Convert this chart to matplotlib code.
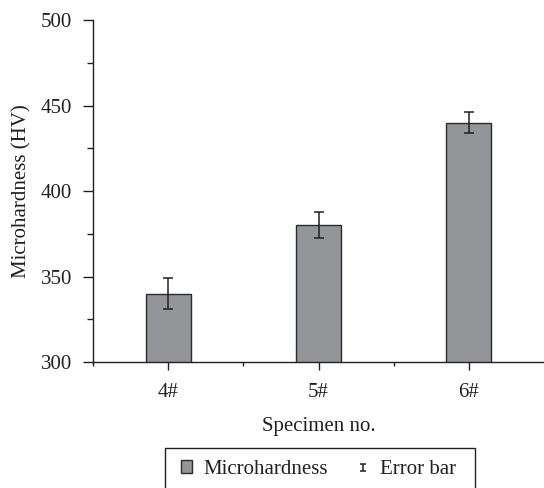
import matplotlib
matplotlib.use("Agg")
import matplotlib.pyplot as plt
from matplotlib.lines import Line2D
from matplotlib.patches import Rectangle
from matplotlib.legend_handler import HandlerErrorbar
from matplotlib.ticker import MultipleLocator, FixedLocator

plt.rcParams["font.family"] = ["Liberation Serif", "DejaVu Serif"]

specimens = ["4#", "5#", "6#"]
hardness = [340, 380, 440]
errors = [9, 7.5, 6]

ink = "#231f20"


class SmallCapHandler(HandlerErrorbar):
    # shrink the caps drawn in the legend key
    def create_artists(self, *args, **kwargs):
        arts = super().create_artists(*args, **kwargs)
        for a in arts:
            if isinstance(a, Line2D) and a.get_marker() == "_":
                a.set_markersize(5)
        return arts


fig = plt.figure(figsize=(5.44, 4.88), dpi=100)
ax = fig.add_axes([0.171, 0.258, 0.829, 0.701])

x = list(range(len(specimens)))
bars = ax.bar(x, hardness, width=0.30, color="#939598", edgecolor="#2b2b2b",
              linewidth=1.0, label="Microhardness", zorder=2)
eb = ax.errorbar(x, hardness, yerr=errors, fmt="none", ecolor=ink,
                 elinewidth=1.1, capsize=3.6, capthick=1.1, label="Error bar", zorder=3)

ax.set_xlim(-0.5, 2.5)
ax.set_ylim(300, 500)
ax.set_xticks(x)
ax.set_xticklabels(specimens)
ax.xaxis.set_minor_locator(FixedLocator([-0.5, 0.5, 1.5]))
ax.yaxis.set_major_locator(MultipleLocator(50))
ax.yaxis.set_minor_locator(MultipleLocator(25))

for s in ["top", "right"]:
    ax.spines[s].set_visible(False)
for s in ["left", "bottom"]:
    ax.spines[s].set_color(ink)
    ax.spines[s].set_linewidth(1.0)

ax.tick_params(axis="y", which="major", direction="out", length=7, width=1,
               labelsize=15, pad=8, colors=ink)
ax.tick_params(axis="y", which="minor", direction="out", length=4, width=1,
               colors=ink)
ax.tick_params(axis="x", which="major", direction="out", length=6, width=1,
               labelsize=15, pad=9, colors=ink)
ax.tick_params(axis="x", which="minor", direction="out", length=3, width=1,
               colors=ink)

ax.set_xlabel("Specimen no.", fontsize=15, labelpad=11, color=ink)
ax.set_ylabel("Microhardness (HV)", fontsize=15, labelpad=7, color=ink)

leg = fig.legend([bars, eb], ["Microhardness", "Error bar"], ncol=2,
                 loc="upper left", bbox_to_anchor=(181 / 544, 1 - 460 / 488),
                 fontsize=15, frameon=False, handlelength=0.53, handleheight=0.53,
                 columnspacing=1.4, handletextpad=0.55, borderpad=0,
                 borderaxespad=0, handler_map={eb: SmallCapHandler(yerr_size=0.17)})
for t in leg.get_texts():
    t.set_color(ink)

# legend frame, running off the bottom edge like the original figure
fig.patches.append(Rectangle((165 / 544, -0.05), (475 - 165) / 544, 0.05 + 1 - 448 / 488,
                             transform=fig.transFigure, fill=False,
                             edgecolor=ink, linewidth=1.0))

fig.savefig("out.png", dpi=100)
